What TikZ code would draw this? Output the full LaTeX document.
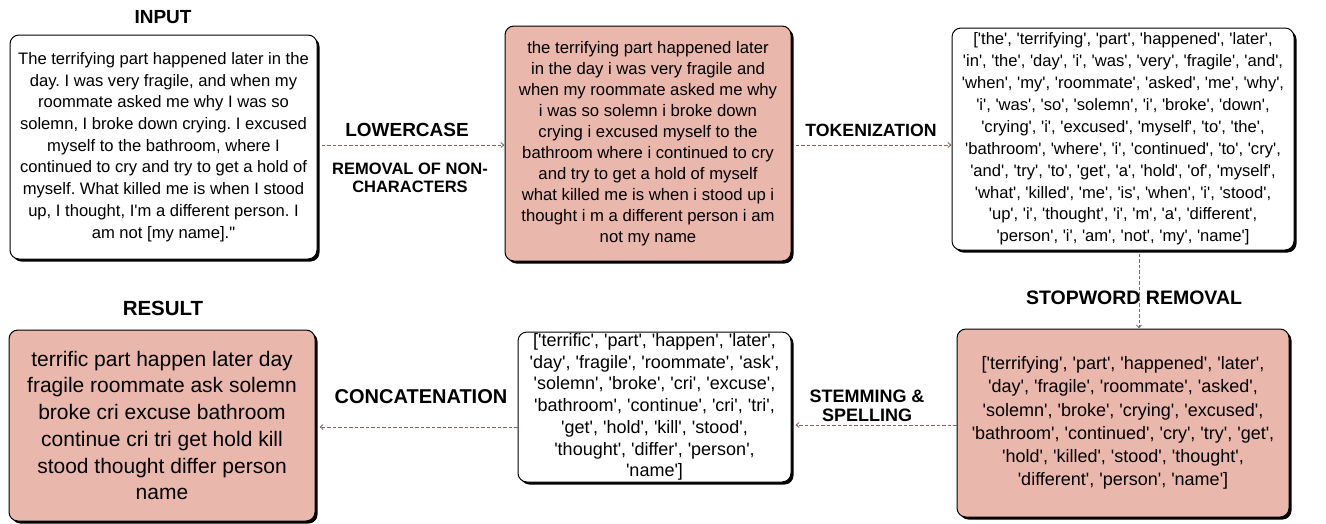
\documentclass[tikz,border=0pt]{standalone}
\usepackage{fontspec}
\setmainfont{Liberation Sans}[Ligatures=TeXOff]
\usetikzlibrary{shadows,arrows.meta}
\definecolor{pinkfill}{RGB}{234,183,172}
\definecolor{arrowc}{RGB}{130,100,95}
\frenchspacing
\begin{document}
\begin{tikzpicture}[x=1pt,y=-1pt,
  box/.style={draw=black, line width=1pt, rounded corners=9pt, fill=white, align=center, inner sep=0pt,
    drop shadow={shadow xshift=2.5pt, shadow yshift=-2.5pt, fill=black, opacity=1}},
  pinkbox/.style={box, fill=pinkfill},
  lbl/.style={font=\bfseries, align=center, inner sep=0pt},
  arr/.style={draw=arrowc, dash pattern=on 3.5pt off 2pt, line width=0.9pt, -{Straight Barb[length=3pt,width=5pt]}}
]
\useasboundingbox (0,0) rectangle (1326,523);

% boxes
\node[box, minimum width=307pt, minimum height=224pt, font=\fontsize{16.6}{21.7}\selectfont] (b1) at (163.5,147) {The terrifying part happened later in the\\
day. I was very fragile, and when my\\
roommate asked me why I was so\\
solemn, I broke down crying. I excused\\
myself to the bathroom, where I\\
continued to cry and try to get a hold of\\
myself. What killed me is when I stood\\
up, I thought, I'm a different person. I\\
am not [my name]."};

\node[pinkbox, minimum width=286pt, minimum height=235pt, font=\fontsize{16.7}{21}\selectfont] (b2) at (648,143.5) {the terrifying part happened later\\
in the day i was very fragile and\\
when my roommate asked me why\\
i was so solemn i broke down\\
crying i excused myself to the\\
bathroom where i continued to cry\\
and try to get a hold of myself\\
what killed me is when i stood up i\\
thought i m a different person i am\\
not my name};

\node[box, minimum width=342pt, minimum height=222pt, font=\fontsize{16.6}{21.9}\selectfont] (b3) at (1123,139) {['the', 'terrifying', 'part', 'happened', 'later',\\
'in', 'the', 'day', 'i', 'was', 'very', 'fragile', 'and',\\
'when', 'my', 'roommate', 'asked', 'me', 'why',\\
'i', 'was', 'so', 'solemn', 'i', 'broke', 'down',\\
'crying', 'i', 'excused', 'myself', 'to', 'the',\\
'bathroom', 'where', 'i', 'continued', 'to', 'cry',\\
'and', 'try', 'to', 'get', 'a', 'hold', 'of', 'myself',\\
'what', 'killed', 'me', 'is', 'when', 'i', 'stood',\\
'up', 'i', 'thought', 'i', 'm', 'a', 'different',\\
'person', 'i', 'am', 'not', 'my', 'name']};

\node[pinkbox, minimum width=332pt, minimum height=188pt, font=\fontsize{18}{23.3}\selectfont] (b4) at (1123,423) {['terrifying', 'part', 'happened', 'later',\\
'day', 'fragile', 'roommate', 'asked',\\
'solemn', 'broke', 'crying', 'excused',\\
'bathroom', 'continued', 'cry', 'try', 'get',\\
'hold', 'killed', 'stood', 'thought',\\
'different', 'person', 'name']};

\node[box, minimum width=273pt, minimum height=150pt, font=\fontsize{18}{21.7}\selectfont] (b5) at (654.5,407) {['terrific', 'part', 'happen', 'later',\\
'day', 'fragile', 'roommate', 'ask',\\
'solemn', 'broke', 'cri', 'excuse',\\
'bathroom', 'continue', 'cri', 'tri',\\
'get', 'hold', 'kill', 'stood',\\
'thought', 'differ', 'person',\\
'name']};

\node[pinkbox, minimum width=306pt, minimum height=191pt, font=\fontsize{21}{26.7}\selectfont] (b6) at (162,425.5) {terrific part happen later day\\
fragile roommate ask solemn\\
broke cri excuse bathroom\\
continue cri tri get hold kill\\
stood thought differ person\\
name};

% labels
\node[lbl, font=\bfseries\fontsize{19}{19}\selectfont] (tin) at (163,17) {INPUT};
\node[lbl, font=\bfseries\fontsize{20.5}{20.5}\selectfont] (tres) at (163,308) {RESULT};
\node[lbl, font=\bfseries\fontsize{19}{19}\selectfont] (tlow) at (407,130) {LOWERCASE};
\node[lbl, font=\bfseries\fontsize{16.5}{17.5}\selectfont] (trem) at (410,178) {REMOVAL OF NON-\\CHARACTERS};
\node[lbl, font=\bfseries\fontsize{17.7}{17.7}\selectfont] (ttok) at (871,130) {TOKENIZATION};
\node[lbl, font=\bfseries\fontsize{19.5}{19.5}\selectfont] (tstop) at (1134,298) {STOPWORD REMOVAL};
\node[lbl, font=\bfseries\fontsize{18}{18.5}\selectfont] (tstem) at (867,406) {STEMMING \&\\SPELLING};
\node[lbl, font=\bfseries\fontsize{20}{20}\selectfont] (tcon) at (421,397) {CONCATENATION};

% connectors
\draw[arr] ([shift={(4,-2)}]b1.east) coordinate (s1) -- (s1 -| b2.west);
\draw[arr] ([shift={(4,1.5)}]b2.east) coordinate (s2) -- (s2 -| b3.west);
\draw[arr] ([shift={(16,3)}]b3.south) coordinate (s3) -- (s3 |- b4.north);
\draw[arr] ([shift={(0,2)}]b4.west) coordinate (s4) -- ([xshift=4pt]s4 -| b5.east);
\draw[arr] ([shift={(0,20)}]b5.west) coordinate (s5) -- ([xshift=4pt]s5 -| b6.east);
\end{tikzpicture}
\end{document}
